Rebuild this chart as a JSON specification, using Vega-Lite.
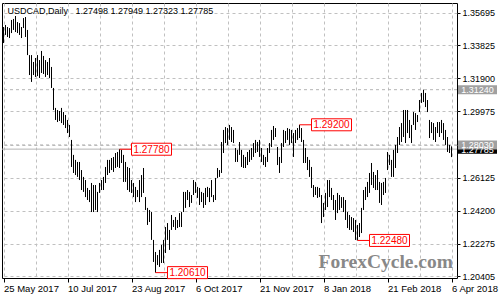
{
"$schema": "https://vega.github.io/schema/vega-lite/v6.json",
"autosize": "none",
"width": 455,
"height": 275,
"padding": {"left": 2, "top": 3, "right": 43, "bottom": 22},
"background": "white",
"config": {
"font": "Liberation Sans",
"view": {"stroke": "#000000", "strokeWidth": 1},
"axis": {"labelOverlap": false, "labelFlush": false, "labelBound": false, "domain": false, "grid": true, "gridColor": "#c0c0c0", "gridDash": [3, 3], "title": null, "labelColor": "#000000"},
"axisY": {"labelOverlap": false, "labelFontSize": 9, "labelPadding": 2, "tickSize": 3, "tickColor": "#000000"}
},
"datasets": {
"bars": [
{"i":0,"h":1.3488,"l":1.3395},{"i":1,"h":1.35,"l":1.3442},{"i":2,"h":1.3488,"l":1.343},{"i":3,"h":1.3482,"l":1.3424},{"i":4,"h":1.3529,"l":1.3453},{"i":5,"h":1.3535,"l":1.3471},{"i":6,"h":1.3552,"l":1.3459},{"i":7,"h":1.3517,"l":1.3453},{"i":8,"h":1.3511,"l":1.3442},{"i":9,"h":1.3488,"l":1.3424},
{"i":10,"h":1.354,"l":1.3482},{"i":11,"h":1.3546,"l":1.343},{"i":12,"h":1.3471,"l":1.3325},{"i":13,"h":1.3325,"l":1.3209},{"i":14,"h":1.3325,"l":1.3169},{"i":15,"h":1.3285,"l":1.3209},{"i":16,"h":1.3308,"l":1.3198},{"i":17,"h":1.3325,"l":1.3203},{"i":18,"h":1.3296,"l":1.3192},{"i":19,"h":1.3349,"l":1.3221},
{"i":20,"h":1.332,"l":1.3215},{"i":21,"h":1.3296,"l":1.3198},{"i":22,"h":1.3285,"l":1.3209},{"i":23,"h":1.3308,"l":1.3192},{"i":24,"h":1.3256,"l":1.3134},{"i":25,"h":1.3134,"l":1.3006},{"i":26,"h":1.3018,"l":1.2948},{"i":27,"h":1.3006,"l":1.2936},{"i":28,"h":1.3,"l":1.2942},{"i":29,"h":1.3018,"l":1.293},
{"i":30,"h":1.2994,"l":1.2919},{"i":31,"h":1.2977,"l":1.2901},{"i":32,"h":1.2948,"l":1.2872},{"i":33,"h":1.2919,"l":1.2849},{"i":34,"h":1.2832,"l":1.2675},{"i":35,"h":1.2745,"l":1.264},{"i":36,"h":1.2716,"l":1.2628},{"i":37,"h":1.2704,"l":1.2617},{"i":38,"h":1.2704,"l":1.2599},{"i":39,"h":1.2657,"l":1.2541},
{"i":40,"h":1.2617,"l":1.253},{"i":41,"h":1.2599,"l":1.25},{"i":42,"h":1.2553,"l":1.2483},{"i":43,"h":1.2541,"l":1.2471},{"i":44,"h":1.2582,"l":1.2413},{"i":45,"h":1.257,"l":1.2413},{"i":46,"h":1.257,"l":1.2425},{"i":47,"h":1.253,"l":1.2413},{"i":48,"h":1.2582,"l":1.2524},{"i":49,"h":1.2599,"l":1.2541},
{"i":50,"h":1.2617,"l":1.2541},{"i":51,"h":1.2675,"l":1.2582},{"i":52,"h":1.2716,"l":1.2628},{"i":53,"h":1.2716,"l":1.264},{"i":54,"h":1.2727,"l":1.2657},{"i":55,"h":1.2733,"l":1.2646},{"i":56,"h":1.2756,"l":1.2669},{"i":57,"h":1.2762,"l":1.2675},{"i":58,"h":1.2778,"l":1.2669},{"i":59,"h":1.2774,"l":1.2698},
{"i":60,"h":1.2745,"l":1.2588},{"i":61,"h":1.2704,"l":1.2588},{"i":62,"h":1.2675,"l":1.2541},{"i":63,"h":1.2669,"l":1.253},{"i":64,"h":1.2599,"l":1.2524},{"i":65,"h":1.2582,"l":1.25},{"i":66,"h":1.2559,"l":1.2471},{"i":67,"h":1.2541,"l":1.25},{"i":68,"h":1.2599,"l":1.2471},{"i":69,"h":1.2628,"l":1.25},
{"i":70,"h":1.2669,"l":1.2524},{"i":71,"h":1.25,"l":1.2425},{"i":72,"h":1.2437,"l":1.2338},{"i":73,"h":1.2425,"l":1.2355},{"i":74,"h":1.2413,"l":1.2251},{"i":75,"h":1.2251,"l":1.2123},{"i":76,"h":1.2181,"l":1.2061},{"i":77,"h":1.2163,"l":1.2105},{"i":78,"h":1.2193,"l":1.2094},{"i":79,"h":1.2222,"l":1.2117},
{"i":80,"h":1.2251,"l":1.2117},{"i":81,"h":1.2326,"l":1.2175},{"i":82,"h":1.2349,"l":1.2251},{"i":83,"h":1.2309,"l":1.2193},{"i":84,"h":1.2396,"l":1.2309},{"i":85,"h":1.2367,"l":1.2326},{"i":86,"h":1.2384,"l":1.2309},{"i":87,"h":1.2367,"l":1.232},{"i":88,"h":1.2407,"l":1.2326},{"i":89,"h":1.2413,"l":1.2326},
{"i":90,"h":1.253,"l":1.2413},{"i":91,"h":1.253,"l":1.2437},{"i":92,"h":1.2541,"l":1.2483},{"i":93,"h":1.253,"l":1.2442},{"i":94,"h":1.2512,"l":1.2466},{"i":95,"h":1.2599,"l":1.2512},{"i":96,"h":1.2588,"l":1.2524},{"i":97,"h":1.2559,"l":1.2495},{"i":98,"h":1.2553,"l":1.2454},{"i":99,"h":1.253,"l":1.2471},
{"i":100,"h":1.2524,"l":1.2437},{"i":101,"h":1.2553,"l":1.2454},{"i":102,"h":1.2559,"l":1.25},{"i":103,"h":1.2553,"l":1.2471},{"i":104,"h":1.2599,"l":1.25},{"i":105,"h":1.2512,"l":1.2471},{"i":106,"h":1.2611,"l":1.2483},{"i":107,"h":1.2669,"l":1.2611},{"i":108,"h":1.2657,"l":1.2617},{"i":109,"h":1.282,"l":1.264},
{"i":110,"h":1.289,"l":1.2756},{"i":111,"h":1.2907,"l":1.2814},{"i":112,"h":1.2901,"l":1.2803},{"i":113,"h":1.2919,"l":1.2832},{"i":114,"h":1.2907,"l":1.282},{"i":115,"h":1.289,"l":1.2814},{"i":116,"h":1.2785,"l":1.2704},{"i":117,"h":1.2774,"l":1.2704},{"i":118,"h":1.282,"l":1.2745},{"i":119,"h":1.2774,"l":1.2675},
{"i":120,"h":1.2745,"l":1.2669},{"i":121,"h":1.2733,"l":1.2669},{"i":122,"h":1.2762,"l":1.2686},{"i":123,"h":1.2774,"l":1.2704},{"i":124,"h":1.2785,"l":1.2716},{"i":125,"h":1.2814,"l":1.2733},{"i":126,"h":1.2832,"l":1.2756},{"i":127,"h":1.282,"l":1.2762},{"i":128,"h":1.2832,"l":1.2733},{"i":129,"h":1.2785,"l":1.2704},
{"i":130,"h":1.2745,"l":1.2686},{"i":131,"h":1.2733,"l":1.2675},{"i":132,"h":1.2785,"l":1.2704},{"i":133,"h":1.2814,"l":1.2756},{"i":134,"h":1.289,"l":1.2791},{"i":135,"h":1.2913,"l":1.2832},{"i":136,"h":1.2901,"l":1.2849},{"i":137,"h":1.2791,"l":1.2686},{"i":138,"h":1.2733,"l":1.264},{"i":139,"h":1.2814,"l":1.2698},
{"i":140,"h":1.289,"l":1.2791},{"i":141,"h":1.2884,"l":1.2814},{"i":142,"h":1.2901,"l":1.2832},{"i":143,"h":1.2896,"l":1.2803},{"i":144,"h":1.289,"l":1.2814},{"i":145,"h":1.2872,"l":1.2733},{"i":146,"h":1.289,"l":1.2814},{"i":147,"h":1.2901,"l":1.2832},{"i":148,"h":1.292,"l":1.2843},{"i":149,"h":1.2901,"l":1.282},
{"i":150,"h":1.2832,"l":1.2698},{"i":151,"h":1.2785,"l":1.2698},{"i":152,"h":1.2733,"l":1.2657},{"i":153,"h":1.2716,"l":1.2617},{"i":154,"h":1.2675,"l":1.2553},{"i":155,"h":1.257,"l":1.25},{"i":156,"h":1.2559,"l":1.2512},{"i":157,"h":1.2559,"l":1.2495},{"i":158,"h":1.2553,"l":1.25},{"i":159,"h":1.2512,"l":1.2349},
{"i":160,"h":1.2466,"l":1.2384},{"i":161,"h":1.2524,"l":1.2425},{"i":162,"h":1.2599,"l":1.2442},{"i":163,"h":1.2599,"l":1.25},{"i":164,"h":1.2553,"l":1.2483},{"i":165,"h":1.2512,"l":1.2425},{"i":166,"h":1.2483,"l":1.2367},{"i":167,"h":1.2524,"l":1.2407},{"i":168,"h":1.2512,"l":1.2425},{"i":169,"h":1.25,"l":1.2437},
{"i":170,"h":1.25,"l":1.2413},{"i":171,"h":1.2483,"l":1.2367},{"i":172,"h":1.2413,"l":1.232},{"i":173,"h":1.2396,"l":1.2309},{"i":174,"h":1.2384,"l":1.2309},{"i":175,"h":1.2378,"l":1.2297},{"i":176,"h":1.2367,"l":1.2251},{"i":177,"h":1.2338,"l":1.2248},{"i":178,"h":1.2349,"l":1.2268},{"i":179,"h":1.2437,"l":1.2291},
{"i":180,"h":1.2541,"l":1.2425},{"i":181,"h":1.2559,"l":1.2483},{"i":182,"h":1.2588,"l":1.25},{"i":183,"h":1.264,"l":1.2524},{"i":184,"h":1.2698,"l":1.257},{"i":185,"h":1.2646,"l":1.2553},{"i":186,"h":1.2628,"l":1.2541},{"i":187,"h":1.2657,"l":1.2541},{"i":188,"h":1.2588,"l":1.2466},{"i":189,"h":1.2582,"l":1.2454},
{"i":190,"h":1.2588,"l":1.2512},{"i":191,"h":1.2611,"l":1.2524},{"i":192,"h":1.2762,"l":1.2657},{"i":193,"h":1.2745,"l":1.2686},{"i":194,"h":1.2716,"l":1.2617},{"i":195,"h":1.2774,"l":1.2617},{"i":196,"h":1.2803,"l":1.2669},{"i":197,"h":1.2849,"l":1.2756},{"i":198,"h":1.2907,"l":1.2803},{"i":199,"h":1.293,"l":1.282},
{"i":200,"h":1.3006,"l":1.2849},{"i":201,"h":1.3006,"l":1.2814},{"i":202,"h":1.3006,"l":1.2872},{"i":203,"h":1.2948,"l":1.2843},{"i":204,"h":1.2919,"l":1.2814},{"i":205,"h":1.2994,"l":1.2919},{"i":206,"h":1.2988,"l":1.289},{"i":207,"h":1.2977,"l":1.2936},{"i":208,"h":1.3064,"l":1.2994},{"i":209,"h":1.3105,"l":1.3047},
{"i":210,"h":1.3124,"l":1.3052},{"i":211,"h":1.3105,"l":1.3023},{"i":212,"h":1.3064,"l":1.2994},{"i":213,"h":1.2948,"l":1.2843},{"i":214,"h":1.2936,"l":1.2872},{"i":215,"h":1.293,"l":1.2832},{"i":216,"h":1.2907,"l":1.282},{"i":217,"h":1.2936,"l":1.2872},{"i":218,"h":1.2936,"l":1.2849},{"i":219,"h":1.2948,"l":1.2872},
{"i":220,"h":1.293,"l":1.2832},{"i":221,"h":1.289,"l":1.2803},{"i":222,"h":1.2849,"l":1.2762},{"i":223,"h":1.2803,"l":1.2756},{"i":224,"h":1.27949,"l":1.27323}
],
"notes": [
{"i":58,"p":1.2778,"t":"1.27780"},
{"i":76,"p":1.2061,"t":"1.20610"},
{"i":148,"p":1.292,"t":"1.29200"},
{"i":177,"p":1.2248,"t":"1.22480"}
],
"levels": [
{"p":1.27785,"t":"1.27785","kind":"bid"},
{"p":1.3124,"t":"1.31240","kind":"line"},
{"p":1.2803,"t":"1.28030","kind":"line"}
],
"caption": [
{"i":2,"p":1.35608,"t":"USDCAD,Daily\u00a0\u00a0 1.27498 1.27949 1.27323 1.27785"}
],
"brand": [
{"i":224.75,"p":1.20879,"t":"ForexCycle.com"}
]
},
"layer": [
{
"data": {"name": "levels"},
"mark": {"type": "rule", "strokeWidth": 1, "color": "#b4b4b4"},
"encoding": {
"y": {"field": "p", "type": "quantitative",
"scale": {"domain": [1.20298, 1.36276], "nice": false, "zero": false},
"axis": {"orient": "right", "values": [1.20405, 1.22275, 1.242, 1.26125, 1.2805, 1.29975, 1.319, 1.33825, 1.35695], "tickCount": 50, "format": ".5f", "labelOverlap": false}},
"strokeDash": {"field": "kind", "type": "nominal", "scale": {"domain": ["bid", "line"], "range": [[1, 0], [3, 3]]}, "legend": null}
}
},
{
"data": {"name": "bars"},
"mark": {"type": "rule", "color": "#000000", "strokeWidth": 1},
"encoding": {
"x": {"field": "i", "type": "quantitative",
"scale": {"domain": [-0.75, 226.75], "nice": false, "zero": false},
"axis": {"values": [0, 16, 32, 48, 64, 80, 96, 112, 128, 144, 160, 176, 192, 208, 224], "tickCount": 50, "tickSize": 4, "tickColor": {"condition": {"test": "datum.value % 32 === 0", "value": "#000000"}, "value": "transparent"}, "labelExpr": "['25 May 2017','','10 Jul 2017','','23 Aug 2017','','6 Oct 2017','','21 Nov 2017','','8 Jan 2018','','21 Feb 2018','','6 Apr 2018'][round(datum.value/16)]", "labelAlign": "left", "labelBaseline": "top", "labelPadding": 1, "labelFontSize": 9.5}},
"y": {"field": "l", "type": "quantitative"},
"y2": {"field": "h"}
}
},
{
"data": {"name": "notes"},
"mark": {"type": "rule", "color": "#ff0000", "strokeWidth": 1, "x2Offset": 12},
"encoding": {
"x": {"field": "i", "type": "quantitative"},
"x2": {"field": "i"},
"y": {"field": "p", "type": "quantitative"}
}
},
{
"data": {"name": "notes"},
"mark": {"type": "point", "shape": "M-1,-0.3H1V0.3H-1Z", "size": 1600, "fill": "#ffffff", "stroke": "#ff0000", "strokeWidth": 1, "opacity": 1, "xOffset": 32},
"encoding": {
"x": {"field": "i", "type": "quantitative"},
"y": {"field": "p", "type": "quantitative"}
}
},
{
"data": {"name": "notes"},
"mark": {"type": "text", "color": "#ff0000", "fontSize": 10, "align": "center", "baseline": "middle", "xOffset": 32, "dy": 0.5},
"encoding": {
"x": {"field": "i", "type": "quantitative"},
"y": {"field": "p", "type": "quantitative"},
"text": {"field": "t"}
}
},
{
"data": {"name": "levels"},
"mark": {"type": "point", "shape": "M-1,-0.23H1V0.23H-1Z", "size": 1521, "opacity": 1, "strokeWidth": 0},
"encoding": {
"x": {"datum": 237},
"y": {"field": "p", "type": "quantitative"},
"fill": {"field": "kind", "type": "nominal", "scale": {"domain": ["bid", "line"], "range": ["#000000", "#a0a0a0"]}, "legend": null}
}
},
{
"data": {"name": "levels"},
"mark": {"type": "text", "color": "#ffffff", "fontSize": 9, "align": "center", "baseline": "middle", "dy": 0.5},
"encoding": {
"x": {"datum": 237},
"y": {"field": "p", "type": "quantitative"},
"text": {"field": "t"}
}
},
{
"data": {"name": "caption"},
"mark": {"type": "text", "color": "#000000", "fontSize": 9, "align": "left", "baseline": "alphabetic"},
"encoding": {
"x": {"field": "i", "type": "quantitative"},
"y": {"field": "p", "type": "quantitative"},
"text": {"field": "t"}
}
},
{
"data": {"name": "brand"},
"mark": {"type": "text", "color": "#888888", "font": "Liberation Serif", "fontWeight": "bold", "fontSize": 19.5, "align": "right", "baseline": "alphabetic"},
"encoding": {
"x": {"field": "i", "type": "quantitative"},
"y": {"field": "p", "type": "quantitative"},
"text": {"field": "t"}
}
}
]
}
